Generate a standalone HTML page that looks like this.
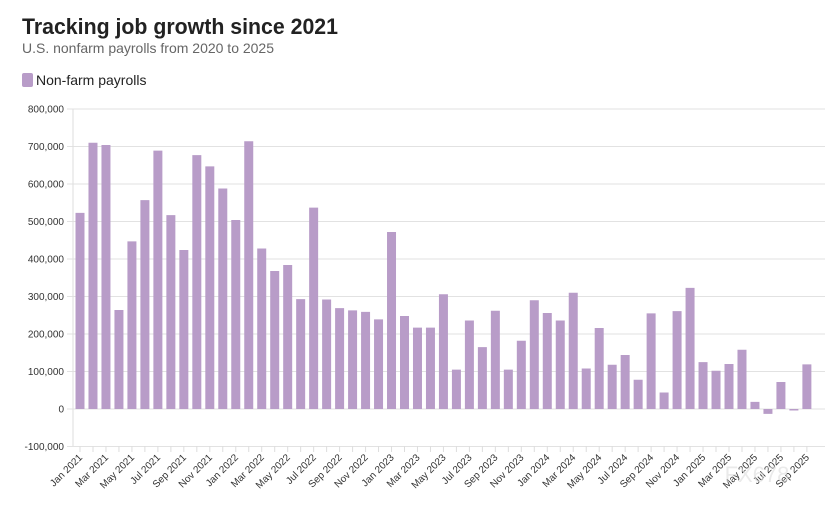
<!DOCTYPE html>
<html><head><meta charset="utf-8"><style>
body{margin:0;background:#fff;font-family:"Liberation Sans",sans-serif}
</style></head><body>
<svg width="837" height="508" xmlns="http://www.w3.org/2000/svg" font-family="Liberation Sans, sans-serif">
<rect width="837" height="508" fill="#fff"/>
<text x="22" y="34" font-size="22" font-weight="bold" fill="#222" textLength="316" lengthAdjust="spacingAndGlyphs">Tracking job growth since 2021</text>
<text x="22" y="53" font-size="14" fill="#666" textLength="252" lengthAdjust="spacingAndGlyphs">U.S. nonfarm payrolls from 2020 to 2025</text>
<rect x="22" y="73" width="11" height="14" rx="2" fill="#b89cc8"/>
<text x="36" y="85" font-size="14" fill="#222">Non-farm payrolls</text>
<g id="grid" stroke="#e2e2e2" stroke-width="1"></g>
<g id="ylab" font-size="10" fill="#333" text-anchor="end"></g>
<g id="bars" fill="#b89cc8"></g>
<g id="ticks" stroke="#ddd"></g>
<g id="xlab" font-size="10" fill="#333" text-anchor="end"></g>
<line x1="73" y1="109" x2="73" y2="446" stroke="#ddd"/>
<text x="757" y="482" font-size="22" fill="#ddd" opacity="0.6" text-anchor="middle">FX678</text>
</svg>
<script>
var ns="http://www.w3.org/2000/svg";
function el(p,t,a,txt){var e=document.createElementNS(ns,t);for(var k in a)e.setAttribute(k,a[k]);if(txt!=null)e.textContent=txt;document.getElementById(p).appendChild(e);}
function Y(v){return 409-v/100000*37.5;}
for(var v=-100000;v<=800000;v+=100000){var y=Y(v);el("grid","line",{x1:67,x2:825,y1:y,y2:y});el("ylab","text",{x:64,y:y+3.5},v.toLocaleString("en-US"));}
var d=[523,710,704,264,447,557,689,517,424,677,647,588,504,714,428,368,384,293,537,292,269,263,259,239,472,248,217,217,306,105,236,165,262,105,182,290,256,236,310,108,216,118,144,78,255,44,261,323,125,102,120,158,19,-13,72,-4,119];
var m=["Jan","Feb","Mar","Apr","May","Jun","Jul","Aug","Sep","Oct","Nov","Dec"];
for(var i=0;i<d.length;i++){var cx=80+i*12.98,v=d[i]*1000,y0=Y(0),y1=Y(v);
el("bars","rect",{x:cx-4.5,y:Math.min(y0,y1),width:9,height:Math.abs(y1-y0)});
el("ticks","line",{x1:cx,x2:cx,y1:446,y2:452});
if(i%2==0){var lab=m[i%12]+" "+(2021+Math.floor(i/12));el("xlab","text",{x:cx+3,y:458,transform:"rotate(-45 "+(cx+3)+" 458)"},lab);}}
</script>
</body></html>
